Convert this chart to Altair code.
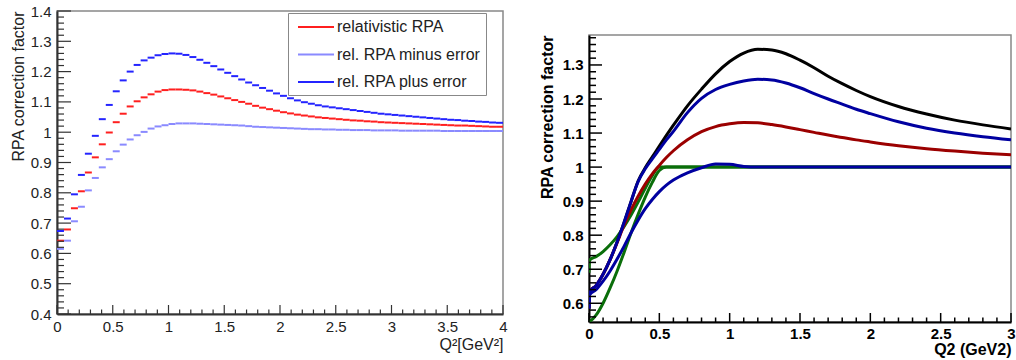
import altair as alt
import numpy as np
import pandas as pd

FONT = "Liberation Sans"

# ---------------- left panel: histogram, 64 bins of 0.0625 GeV^2 ----------------
BIN_WIDTH = 0.0625
rel_rpa = [0.642, 0.679, 0.749, 0.805, 0.867, 0.917, 0.960, 0.999, 1.033, 1.061,
           1.085, 1.102, 1.115, 1.125, 1.134, 1.139, 1.141, 1.141, 1.140, 1.138,
           1.134, 1.129, 1.124, 1.118, 1.112, 1.106, 1.100, 1.094, 1.087, 1.081,
           1.076, 1.071, 1.066, 1.062, 1.058, 1.055, 1.052, 1.049, 1.047, 1.045,
           1.043, 1.041, 1.039, 1.038, 1.036, 1.035, 1.033, 1.032, 1.031, 1.030,
           1.029, 1.028, 1.027, 1.026, 1.025, 1.024, 1.023, 1.022, 1.022, 1.021,
           1.020, 1.019, 1.018, 1.018]
rel_rpa_minus = [0.615, 0.642, 0.706, 0.754, 0.808, 0.849, 0.884, 0.911, 0.937, 0.959,
                 0.976, 0.990, 1.001, 1.012, 1.019, 1.023, 1.027, 1.029, 1.029, 1.029,
                 1.028, 1.027, 1.026, 1.025, 1.024, 1.023, 1.022, 1.020, 1.018, 1.017,
                 1.016, 1.015, 1.014, 1.013, 1.012, 1.011, 1.010, 1.010, 1.009, 1.009,
                 1.008, 1.008, 1.007, 1.007, 1.007, 1.006, 1.006, 1.006, 1.006, 1.005,
                 1.005, 1.005, 1.005, 1.005, 1.005, 1.004, 1.004, 1.004, 1.004, 1.004,
                 1.004, 1.004, 1.004, 1.004]
rel_rpa_plus = [0.674, 0.715, 0.795, 0.859, 0.929, 0.988, 1.043, 1.090, 1.135, 1.171,
                1.200, 1.222, 1.237, 1.246, 1.254, 1.258, 1.260, 1.259, 1.255, 1.248,
                1.239, 1.229, 1.218, 1.207, 1.196, 1.185, 1.174, 1.164, 1.155, 1.146,
                1.137, 1.128, 1.120, 1.112, 1.105, 1.099, 1.094, 1.089, 1.085, 1.082,
                1.079, 1.076, 1.073, 1.070, 1.067, 1.064, 1.061, 1.059, 1.057, 1.055,
                1.053, 1.051, 1.049, 1.047, 1.045, 1.043, 1.041, 1.040, 1.038, 1.037,
                1.035, 1.034, 1.032, 1.031]
left_series = ["relativistic RPA", "rel. RPA minus error", "rel. RPA plus error"]
left_colors = ["#ff1f1f", "#8a8aff", "#2424ff"]

left_x_major = [0, 0.5, 1, 1.5, 2, 2.5, 3, 3.5, 4]
left_y_major = [0.4, 0.5, 0.6, 0.7, 0.8, 0.9, 1, 1.1, 1.2, 1.3, 1.4]
left_x_minor = [v for v in np.round(np.arange(0.1, 4.0, 0.1), 2) if round(v * 2, 6) % 1 != 0]
left_y_minor = [v for v in np.round(np.arange(0.42, 1.4, 0.02), 2) if round(v * 10, 6) % 1 != 0]

# ---------------- right panel: smooth curves ----------------
q2 = [0, 0.005, 0.05, 0.1, 0.15, 0.2, 0.25, 0.3, 0.35, 0.4, 0.45, 0.5, 0.55, 0.6,
      0.7, 0.8, 0.9, 1.0, 1.1, 1.2, 1.3, 1.4, 1.5, 1.6, 1.7, 1.8, 1.9, 2.0, 2.2,
      2.4, 2.6, 2.8, 3.0]
black_curve = [0.585, 0.635, 0.652, 0.685, 0.728, 0.780, 0.838, 0.900, 0.960, 0.998,
               1.030, 1.062, 1.093, 1.123, 1.180, 1.229, 1.274, 1.310, 1.335, 1.346,
               1.344, 1.333, 1.314, 1.292, 1.267, 1.245, 1.225, 1.207, 1.178, 1.156,
               1.138, 1.124, 1.112]
blue_upper = [0.585, 0.635, 0.652, 0.685, 0.728, 0.780, 0.838, 0.900, 0.958, 0.995,
              1.024, 1.052, 1.080, 1.105, 1.160, 1.202, 1.228, 1.243, 1.253, 1.258,
              1.256, 1.247, 1.233, 1.216, 1.200, 1.185, 1.170, 1.157, 1.133, 1.114,
              1.100, 1.089, 1.080]
red_curve = [0.585, 0.635, 0.652, 0.685, 0.728, 0.778, 0.830, 0.875, 0.915, 0.950,
             0.980, 1.005, 1.028, 1.048, 1.080, 1.104, 1.119, 1.127, 1.131, 1.130,
             1.125, 1.118, 1.110, 1.102, 1.094, 1.087, 1.080, 1.074, 1.063, 1.054,
             1.047, 1.041, 1.036]
blue_lower = [0.585, 0.625, 0.640, 0.665, 0.695, 0.730, 0.768, 0.808, 0.845, 0.878,
              0.905, 0.928, 0.947, 0.962, 0.983, 0.998, 1.009, 1.008, 1.002, 1.000,
              1.000, 1.000, 1.000, 1.000, 1.000, 1.000, 1.000, 1.000, 1.000, 1.000,
              1.000, 1.000, 1.000]
green_upper = [0.690, 0.727, 0.737, 0.752, 0.772, 0.796, 0.826, 0.860, 0.898, 0.938,
               0.975, 1.000, 1.000, 1.000, 1.000, 1.000, 1.000, 1.000, 1.000, 1.000,
               1.000, 1.000, 1.000, 1.000, 1.000, 1.000, 1.000, 1.000, 1.000, 1.000,
               1.000, 1.000, 1.000]
green_lower = [0.546, 0.547, 0.565, 0.600, 0.645, 0.695, 0.750, 0.808, 0.862, 0.912,
               0.955, 0.990, 1.000, 1.000, 1.000, 1.000, 1.000, 1.000, 1.000, 1.000,
               1.000, 1.000, 1.000, 1.000, 1.000, 1.000, 1.000, 1.000, 1.000, 1.000,
               1.000, 1.000, 1.000]
right_curves = [("green_upper", green_upper, "#0a6e0a"),
                ("green_lower", green_lower, "#0a6e0a"),
                ("black", black_curve, "#000000"),
                ("red", red_curve, "#9b0000"),
                ("blue_upper", blue_upper, "#0000a0"),
                ("blue_lower", blue_lower, "#0000a0")]

right_x_major = [0, 0.5, 1, 1.5, 2, 2.5, 3]
right_y_major = [0.6, 0.7, 0.8, 0.9, 1, 1.1, 1.2, 1.3]
right_x_minor = [v for v in np.round(np.arange(0.1, 3.0, 0.1), 2) if round(v * 2, 6) % 1 != 0]
right_y_minor = [v for v in np.round(np.arange(0.56, 1.39, 0.02), 2) if round(v * 10, 6) % 1 != 0]

# ---------------- axes (shared by every layer of a panel) ----------------
left_axis_common = dict(ticks=False, grid=False, domainColor="#333333", domainWidth=2,
                        labelFont=FONT, labelFontSize=15, labelColor="#222222",
                        labelFlush=False, format="~g", titleFont=FONT, titleFontSize=16,
                        titleFontWeight="normal", titleColor="#222222", titleAnchor="end")
LEFT_XAXIS = alt.Axis(values=left_x_major, labelPadding=5, title="Q²[GeV²]",
                      titlePadding=2, **left_axis_common)
LEFT_YAXIS = alt.Axis(values=left_y_major, labelPadding=6, title="RPA correction factor",
                      titlePadding=4, **left_axis_common)

right_axis_common = dict(ticks=False, grid=False, domainColor="#000000", domainWidth=2,
                         labelFont=FONT, labelFontSize=15, labelFontWeight="bold",
                         labelColor="#000000", labelFlush=False, format="~g",
                         titleFont=FONT, titleFontSize=16, titleFontWeight="bold",
                         titleColor="#000000", titleAnchor="end")
RIGHT_XAXIS = alt.Axis(values=right_x_major, labelPadding=4, title="Q2 (GeV2)",
                       titlePadding=0, **right_axis_common)
RIGHT_YAXIS = alt.Axis(values=right_y_major, labelPadding=6, title="RPA correction factor",
                       titlePadding=7, **right_axis_common)


def ytick_layer(vals, length, xscale, yscale, xaxis, yaxis, color, width=1.2):
    return alt.Chart(pd.DataFrame({"t": vals, "z": [xscale.domain[0]] * len(vals)})).mark_rule(
        color=color, strokeWidth=width).encode(
        y=alt.Y("t:Q", scale=yscale, axis=yaxis),
        x=alt.X("z:Q", scale=xscale, axis=xaxis),
        x2=alt.value(length))


def xtick_layer(vals, length, height, xscale, yscale, xaxis, yaxis, color, width=1.2):
    return alt.Chart(pd.DataFrame({"t": vals, "z": [yscale.domain[0]] * len(vals)})).mark_rule(
        color=color, strokeWidth=width).encode(
        x=alt.X("t:Q", scale=xscale, axis=xaxis),
        y=alt.Y("z:Q", scale=yscale, axis=yaxis),
        y2=alt.value(height - length))


# ---------------- left chart ----------------
LW, LH = 446, 303
lx = alt.Scale(domain=[0, 4], nice=False, zero=False)
ly = alt.Scale(domain=[0.4, 1.4], nice=False, zero=False)

rows = []
for name, vals in zip(left_series, [rel_rpa, rel_rpa_minus, rel_rpa_plus]):
    for i, v in enumerate(vals):
        rows.append({"lo": i * BIN_WIDTH, "hi": (i + 1) * BIN_WIDTH, "val": v, "series": name})
hist = pd.DataFrame(rows)

hist_layer = alt.Chart(hist).mark_rule(strokeWidth=2, strokeCap="butt").encode(
    x=alt.X("lo:Q", scale=lx, axis=LEFT_XAXIS),
    x2="hi:Q",
    y=alt.Y("val:Q", scale=ly, axis=LEFT_YAXIS),
    color=alt.Color("series:N", scale=alt.Scale(domain=left_series, range=left_colors),
                    legend=alt.Legend(title=None, orient="none", legendX=231, legendY=2,
                                      symbolType="M-2.25,0H2.25", symbolSize=256,
                                      symbolOffset=14, symbolStrokeWidth=2,
                                      labelFont=FONT, labelFontSize=16, labelColor="#222222",
                                      labelOffset=12, padding=5, rowPadding=10.5,
                                      strokeColor="#888888", fillColor="white", labelLimit=300)),
)

left = alt.layer(
    hist_layer,
    ytick_layer(left_y_major, 14, lx, ly, LEFT_XAXIS, LEFT_YAXIS, "#333333"),
    ytick_layer(left_y_minor, 7, lx, ly, LEFT_XAXIS, LEFT_YAXIS, "#333333"),
    xtick_layer(left_x_major, 9, LH, lx, ly, LEFT_XAXIS, LEFT_YAXIS, "#333333"),
    xtick_layer(left_x_minor, 4.5, LH, lx, ly, LEFT_XAXIS, LEFT_YAXIS, "#333333"),
).properties(width=LW, height=LH)

# ---------------- right chart ----------------
RW, RH = 422, 287
rx = alt.Scale(domain=[0, 3], nice=False, zero=False)
ry = alt.Scale(domain=[0.545, 1.388], nice=False, zero=False)

curve_layers = []
for name, vals, col in right_curves:
    df = pd.DataFrame({"q2": q2, "f": vals})
    curve_layers.append(
        alt.Chart(df).mark_line(color=col, strokeWidth=3, interpolate="monotone", clip=True)
        .encode(x=alt.X("q2:Q", scale=rx, axis=RIGHT_XAXIS),
                y=alt.Y("f:Q", scale=ry, axis=RIGHT_YAXIS))
    )

right = alt.layer(
    *curve_layers,
    ytick_layer(right_y_major, 13, rx, ry, RIGHT_XAXIS, RIGHT_YAXIS, "#000000", 1.5),
    ytick_layer(right_y_minor, 7, rx, ry, RIGHT_XAXIS, RIGHT_YAXIS, "#000000", 1.5),
    xtick_layer(right_x_major, 9, RH, rx, ry, RIGHT_XAXIS, RIGHT_YAXIS, "#000000", 1.5),
    xtick_layer(right_x_minor, 4.5, RH, rx, ry, RIGHT_XAXIS, RIGHT_YAXIS, "#000000", 1.5),
).properties(width=RW, height=RH)

# empty band above the right panel (it sits lower than the left one)
spacer = alt.Chart(pd.DataFrame({"s": [0]})).mark_point(opacity=0).properties(
    width=RW, height=22, view=alt.ViewBackground(stroke="transparent"))

right_col = alt.vconcat(spacer, right, spacing=0)

chart = alt.hconcat(left, right_col, spacing=30).properties(
    padding={"left": 9, "top": 3, "right": 0, "bottom": 0},
    background="white",
).configure_view(stroke="#888888", strokeWidth=1.5)

chart.save("out.html", embed_options={"renderer": "svg", "actions": False})
